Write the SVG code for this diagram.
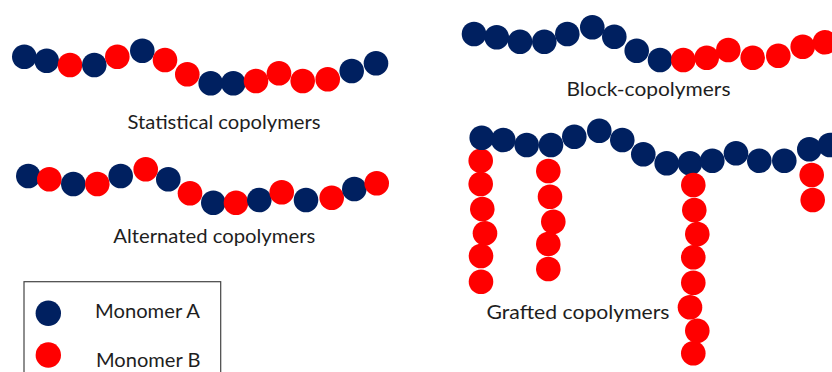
<svg xmlns="http://www.w3.org/2000/svg" width="832" height="372" viewBox="0 0 832 372">
<style>
.a{fill:#002060}
.b{fill:#ff0000}
.t{font-family:Lato,"Open Sans","Liberation Sans",sans-serif;font-size:20px;fill:#1e1e1e}
</style>
<defs>
<circle id="A" r="12.3" class="a"/>
<circle id="B" r="12.3" class="b"/>
</defs>
<rect width="832" height="372" fill="#fff"/>
<g id="statistical">
<use href="#A" x="24.3" y="56.7"/>
<use href="#A" x="46.7" y="60.7"/>
<use href="#B" x="70" y="65"/>
<use href="#A" x="94.3" y="65"/>
<use href="#B" x="117.3" y="56.7"/>
<use href="#A" x="142.3" y="50.7"/>
<use href="#B" x="165" y="60"/>
<use href="#B" x="187.3" y="74.3"/>
<use href="#A" x="210.7" y="83.3"/>
<use href="#A" x="233.3" y="83.3"/>
<use href="#B" x="256" y="81"/>
<use href="#B" x="279" y="73.3"/>
<use href="#B" x="302.7" y="81"/>
<use href="#B" x="327.7" y="79.3"/>
<use href="#A" x="351.7" y="71"/>
<use href="#A" x="376" y="63.3"/>
<text class="t" x="127.5" y="129" textLength="193" lengthAdjust="spacingAndGlyphs">Statistical copolymers</text>
</g>
<g id="alternated">
<use href="#A" x="28.3" y="176"/>
<use href="#B" x="49.3" y="179.3"/>
<use href="#A" x="73.3" y="184"/>
<use href="#B" x="97.3" y="184"/>
<use href="#A" x="120.7" y="176"/>
<use href="#B" x="145.7" y="169.3"/>
<use href="#A" x="168.3" y="179.3"/>
<use href="#B" x="190" y="193.3"/>
<use href="#A" x="213.3" y="202.7"/>
<use href="#B" x="236" y="202.7"/>
<use href="#A" x="259.3" y="200"/>
<use href="#B" x="281.7" y="192.3"/>
<use href="#A" x="306" y="200"/>
<use href="#B" x="331.7" y="197.7"/>
<use href="#A" x="354.3" y="189"/>
<use href="#B" x="376.7" y="183.3"/>
<text class="t" x="113.3" y="242.5" textLength="202" lengthAdjust="spacingAndGlyphs">Alternated copolymers</text>
</g>
<g id="block">
<use href="#A" x="474" y="34"/>
<use href="#A" x="496.7" y="37.3"/>
<use href="#A" x="520" y="41.7"/>
<use href="#A" x="544.3" y="41.7"/>
<use href="#A" x="567.3" y="34"/>
<use href="#A" x="592.3" y="27.3"/>
<use href="#A" x="614.3" y="36.7"/>
<use href="#A" x="636.7" y="50.7"/>
<use href="#A" x="660" y="60"/>
<use href="#B" x="683.3" y="60"/>
<use href="#B" x="706.7" y="57.7"/>
<use href="#B" x="728.3" y="50"/>
<use href="#B" x="752.7" y="57.7"/>
<use href="#B" x="778.3" y="55.7"/>
<use href="#B" x="802.7" y="46.7"/>
<use href="#B" x="825" y="42.3"/>
<text class="t" x="566.5" y="96" textLength="164" lengthAdjust="spacingAndGlyphs">Block-copolymers</text>
</g>
<g id="grafted">
<use href="#B" x="480.7" y="160.7"/>
<use href="#B" x="480.7" y="184"/>
<use href="#B" x="482.3" y="209"/>
<use href="#B" x="485" y="233.3"/>
<use href="#B" x="481" y="256"/>
<use href="#B" x="481" y="281.7"/>
<use href="#B" x="548.3" y="171"/>
<use href="#B" x="550" y="196.7"/>
<use href="#B" x="553.3" y="221.7"/>
<use href="#B" x="548.3" y="244"/>
<use href="#B" x="548.3" y="269"/>
<use href="#B" x="811.7" y="175"/>
<use href="#B" x="812.7" y="200"/>
<use href="#A" x="481.7" y="137.7"/>
<use href="#A" x="503.3" y="140"/>
<use href="#A" x="526.7" y="145"/>
<use href="#A" x="551" y="145"/>
<use href="#A" x="574.3" y="136.7"/>
<use href="#A" x="599.3" y="130.7"/>
<use href="#A" x="622.3" y="140"/>
<use href="#A" x="643.3" y="154.3"/>
<use href="#A" x="666.7" y="163.3"/>
<use href="#A" x="690" y="163.3"/>
<use href="#A" x="712.3" y="160.7"/>
<use href="#A" x="736" y="153.3"/>
<use href="#A" x="759.3" y="160.7"/>
<use href="#A" x="784.3" y="160.7"/>
<use href="#A" x="809.3" y="149.3"/>
<use href="#A" x="830" y="145"/>
<use href="#B" x="693.3" y="185"/>
<use href="#B" x="694.3" y="210"/>
<use href="#B" x="697.3" y="234"/>
<use href="#B" x="693.3" y="257.3"/>
<use href="#B" x="693.3" y="282.7"/>
<use href="#B" x="690" y="307.3"/>
<use href="#B" x="697.3" y="330.7"/>
<use href="#B" x="693.3" y="353.3"/>
<text class="t" x="486.5" y="318.5" textLength="183" lengthAdjust="spacingAndGlyphs">Grafted copolymers</text>
</g>
<g id="legend">
<rect x="24" y="281.7" width="196.7" height="100" fill="none" stroke="#444" stroke-width="1.2"/>
<circle cx="48.3" cy="313.3" r="12.7" class="a"/>
<circle cx="48.3" cy="355" r="12.7" class="b"/>
<text class="t" x="95" y="318.3" textLength="105" lengthAdjust="spacingAndGlyphs">Monomer A</text>
<text class="t" x="96" y="367.3" textLength="104.5" lengthAdjust="spacingAndGlyphs">Monomer B</text>
</g>
<g id="connectors"/>
</svg>
